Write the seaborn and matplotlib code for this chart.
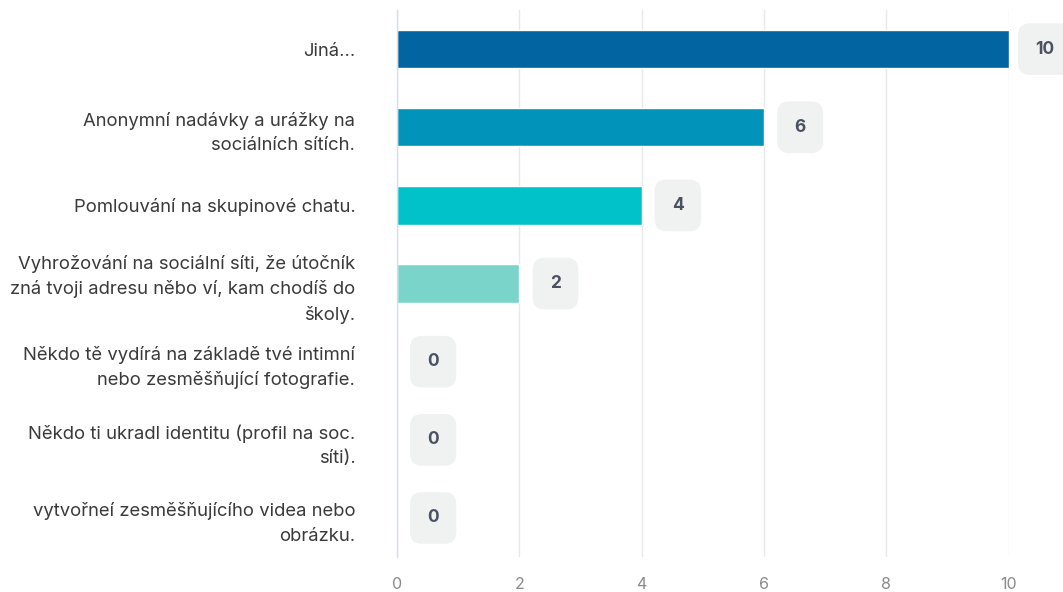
import matplotlib
matplotlib.use("Agg")
import matplotlib.pyplot as plt
import seaborn as sns
import pandas as pd

categories = [
    "Jiná...",
    "Anonymní nadávky a urážky na\nsociálních sítích.",
    "Pomlouvání na skupinové chatu.",
    "Vyhrožování na sociální síti, že útočník\nzná tvoji adresu něbo ví, kam chodíš do\nškoly.",
    "Někdo tě vydírá na základě tvé intimní\nnebo zesměšňující fotografie.",
    "Někdo ti ukradl identitu (profil na soc.\nsíti).",
    "vytvořneí zesměšňujícího videa nebo\nobrázku.",
]
values = [10, 6, 4, 2, 0, 0, 0]
bar_colors = ["#0264a0", "#0293bb", "#02c2c9", "#7ad4ca", "#7ad4ca", "#7ad4ca", "#7ad4ca"]
x_ticks = [0, 2, 4, 6, 8, 10]

sns.set_theme(style="white")
plt.rcParams["font.family"] = ["Inter", "DejaVu Sans"]

df = pd.DataFrame({"cat": categories, "val": values})

fig = plt.figure(figsize=(10.63, 5.92), dpi=100)
ax = fig.add_axes([0.3735, 0.059, 0.5755, 0.924])

sns.barplot(data=df, x="val", y="cat", hue="cat", palette=bar_colors,
            orient="h", width=0.49, legend=False, ax=ax, saturation=1)

ax.set_xlim(0, 10)
ax.set_ylim(6.5, -0.5)
ax.set_xticks(x_ticks)
ax.set_xticklabels([str(t) for t in x_ticks])
ax.set_xlabel("")
ax.set_ylabel("")

ax.grid(axis="x", color="#e6e8ec", linewidth=1)
ax.set_axisbelow(True)
for s in ["top", "right", "bottom"]:
    ax.spines[s].set_visible(False)
ax.spines["left"].set_color("#d8dcea")
ax.spines["left"].set_linewidth(1)

ax.tick_params(axis="x", length=0, pad=14, labelsize=11.5, labelcolor="#8a8a8a")
ax.tick_params(axis="y", length=0, pad=30, labelsize=13.3, labelcolor="#3a3a3a")
for lbl in ax.get_yticklabels():
    lbl.set_ha("right")
    lbl.set_multialignment("right")
    lbl.set_linespacing(1.55)

for i, v in enumerate(values):
    ax.annotate(str(v), xy=(v, i), xytext=(26, 0), textcoords="offset points",
                ha="center", va="center", fontsize=12.5, fontweight="bold",
                color="#4a5262", annotation_clip=False,
                bbox=dict(boxstyle="round,pad=1.0,rounding_size=0.7",
                          fc="#f0f2f2", ec="none"))

fig.savefig("out.png", dpi=100)
